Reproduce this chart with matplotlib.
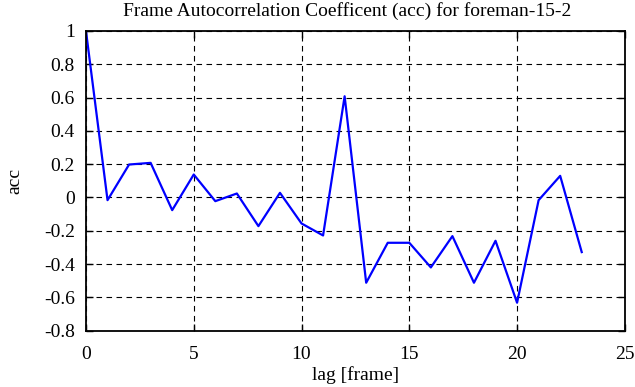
import numpy as np
import matplotlib
matplotlib.use("Agg")
import matplotlib.pyplot as plt

plt.rcParams['font.family'] = ['Liberation Serif', 'DejaVu Serif']
plt.rcParams['axes.unicode_minus'] = False

# autocorrelation values per lag
lags = list(range(24))
acc = [1.0, -0.016, 0.198, 0.208, -0.076, 0.138, -0.022, 0.024, -0.172, 0.028,
       -0.156, -0.228, 0.608, -0.512, -0.272, -0.272, -0.42, -0.232, -0.512,
       -0.26, -0.632, -0.016, 0.13, -0.328]

xticks = [0, 5, 10, 15, 20, 25]
yticks = [-0.8, -0.6, -0.4, -0.2, 0, 0.2, 0.4, 0.6, 0.8, 1]
ytick_labels = ["-0.8", "-0.6", "-0.4", "-0.2", "0", "0.2", "0.4", "0.6", "0.8", "1"]

fig = plt.figure(figsize=(6.35, 3.87), dpi=100)
ax = fig.add_axes([0.1354, 0.1455, 0.8486, 0.7744])

ax.plot(lags, acc, color="#0000ff", linewidth=1.6)

ax.set_xlim(0, 25)
ax.set_ylim(-0.8, 1)
ax.set_xticks(xticks)
ax.set_xticklabels([str(t) for t in xticks])
ax.set_yticks(yticks)
ax.set_yticklabels(ytick_labels)
ax.tick_params(direction="in", length=5, width=1, top=True, right=True,
               labelsize=14, color="black")
ax.tick_params(axis="x", pad=11)
ax.tick_params(axis="y", pad=8)
ax.grid(True, color="black", linestyle=(0, (5, 4)), linewidth=0.8)
for s in ax.spines.values():
    s.set_linewidth(1.3)

ax.set_title("Frame Autocorrelation Coefficent (acc) for foreman-15-2",
             fontsize=14, pad=11, x=0.485)
ax.set_xlabel("lag [frame]", fontsize=14, labelpad=2)
ax.set_ylabel("acc", fontsize=14, labelpad=15)

fig.savefig("out.png", dpi=100)
